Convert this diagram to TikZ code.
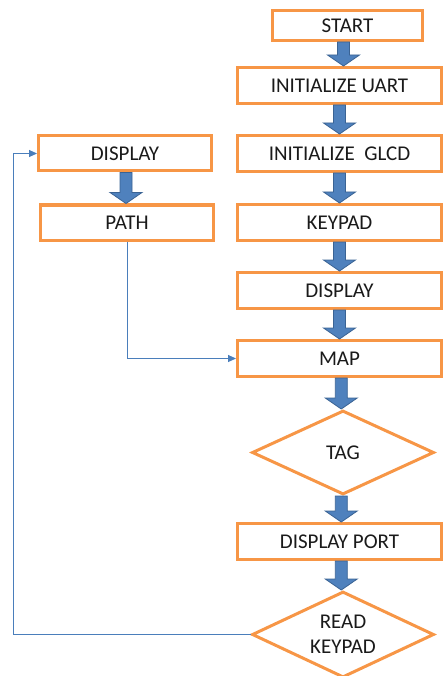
\documentclass[tikz,border=0pt]{standalone}
\usepackage{fontspec}
\setmainfont{Carlito}
\usetikzlibrary{positioning, shapes.geometric, arrows.meta, calc}
\definecolor{boxorange}{HTML}{F79646}
\definecolor{arrowblue}{HTML}{4F81BD}
\definecolor{arrowedge}{HTML}{3A6394}
\definecolor{linkblue}{HTML}{4A7EBB}
\definecolor{labeltext}{HTML}{1A1A1A}

\begin{document}
\begin{tikzpicture}[
    node distance=29pt,
    font=\fontsize{21}{25}\selectfont,
    process/.style={rectangle, draw=boxorange, fill=white, line width=3pt, minimum width=204pt, minimum height=36pt, text=labeltext, align=center},
    sidebox/.style={process, minimum width=173pt, minimum height=35pt},
    decision/.style={diamond, aspect=2, draw=boxorange, fill=white, line width=3pt, minimum width=182pt, minimum height=84pt, inner sep=0pt, text=labeltext, align=center},
    flow/.style={draw=arrowedge, fill=arrowblue, line width=0.8pt, to path={let \p1=(\tikztostart.south), \p2=(\tikztotarget.north), \p3=($(\p1)!0.5!(\p2)$) in (\x3-6pt,\y1) -- (\x3-6pt,\y2+11pt) -- (\x3-16pt,\y2+11pt) -- (\x3,\y2) -- (\x3+16pt,\y2+11pt) -- (\x3+6pt,\y2+11pt) -- (\x3+6pt,\y1) -- cycle}},
    link/.style={draw=linkblue, line width=1pt, -{Triangle[length=8pt,width=7pt]}}
]
\useasboundingbox (0,0) rectangle (445pt,-676pt);

% Main column
\node[process, minimum width=150pt, minimum height=30pt] (start) at (347.5pt,-25.5pt) {START};
\node[process, below=24pt of start, xshift=-8pt] (uart) {INITIALIZE UART};
\node[process, below=of uart] (glcd) {INITIALIZE\ \ GLCD};
\node[process, below=30pt of glcd] (keypad) {KEYPAD};
\node[process, below=of keypad] (display) {DISPLAY};
\node[process, below=of display] (map) {MAP};
\node[decision, below=31pt of map, xshift=3.5pt] (tag) {TAG};
\node[process, below=26pt of tag, xshift=-3.5pt] (port) {DISPLAY PORT};
\node[decision, below=of port, xshift=3.5pt, minimum height=86pt] (readkey) {READ\\KEYPAD};

% Side column
\node[sidebox, left=23pt of glcd] (leftdisp) {DISPLAY};
\node[sidebox, below=31pt of leftdisp, xshift=2pt] (route) {PATH};

% Block arrows
\draw[flow] (start) to (uart);
\draw[flow] (uart) to (glcd);
\draw[flow] (glcd) to (keypad);
\draw[flow] (keypad) to (display);
\draw[flow] (display) to (map);
\draw[flow] (map) to (tag);
\draw[flow] (tag) to (port);
\draw[flow] (port) to (readkey);
\draw[flow] (leftdisp) to (route);

% Links
\draw[link] (route.south) |- (map.west);
\draw[link] (readkey.west) -- ++(-237pt,0) |- (leftdisp.west);

\end{tikzpicture}
\end{document}
